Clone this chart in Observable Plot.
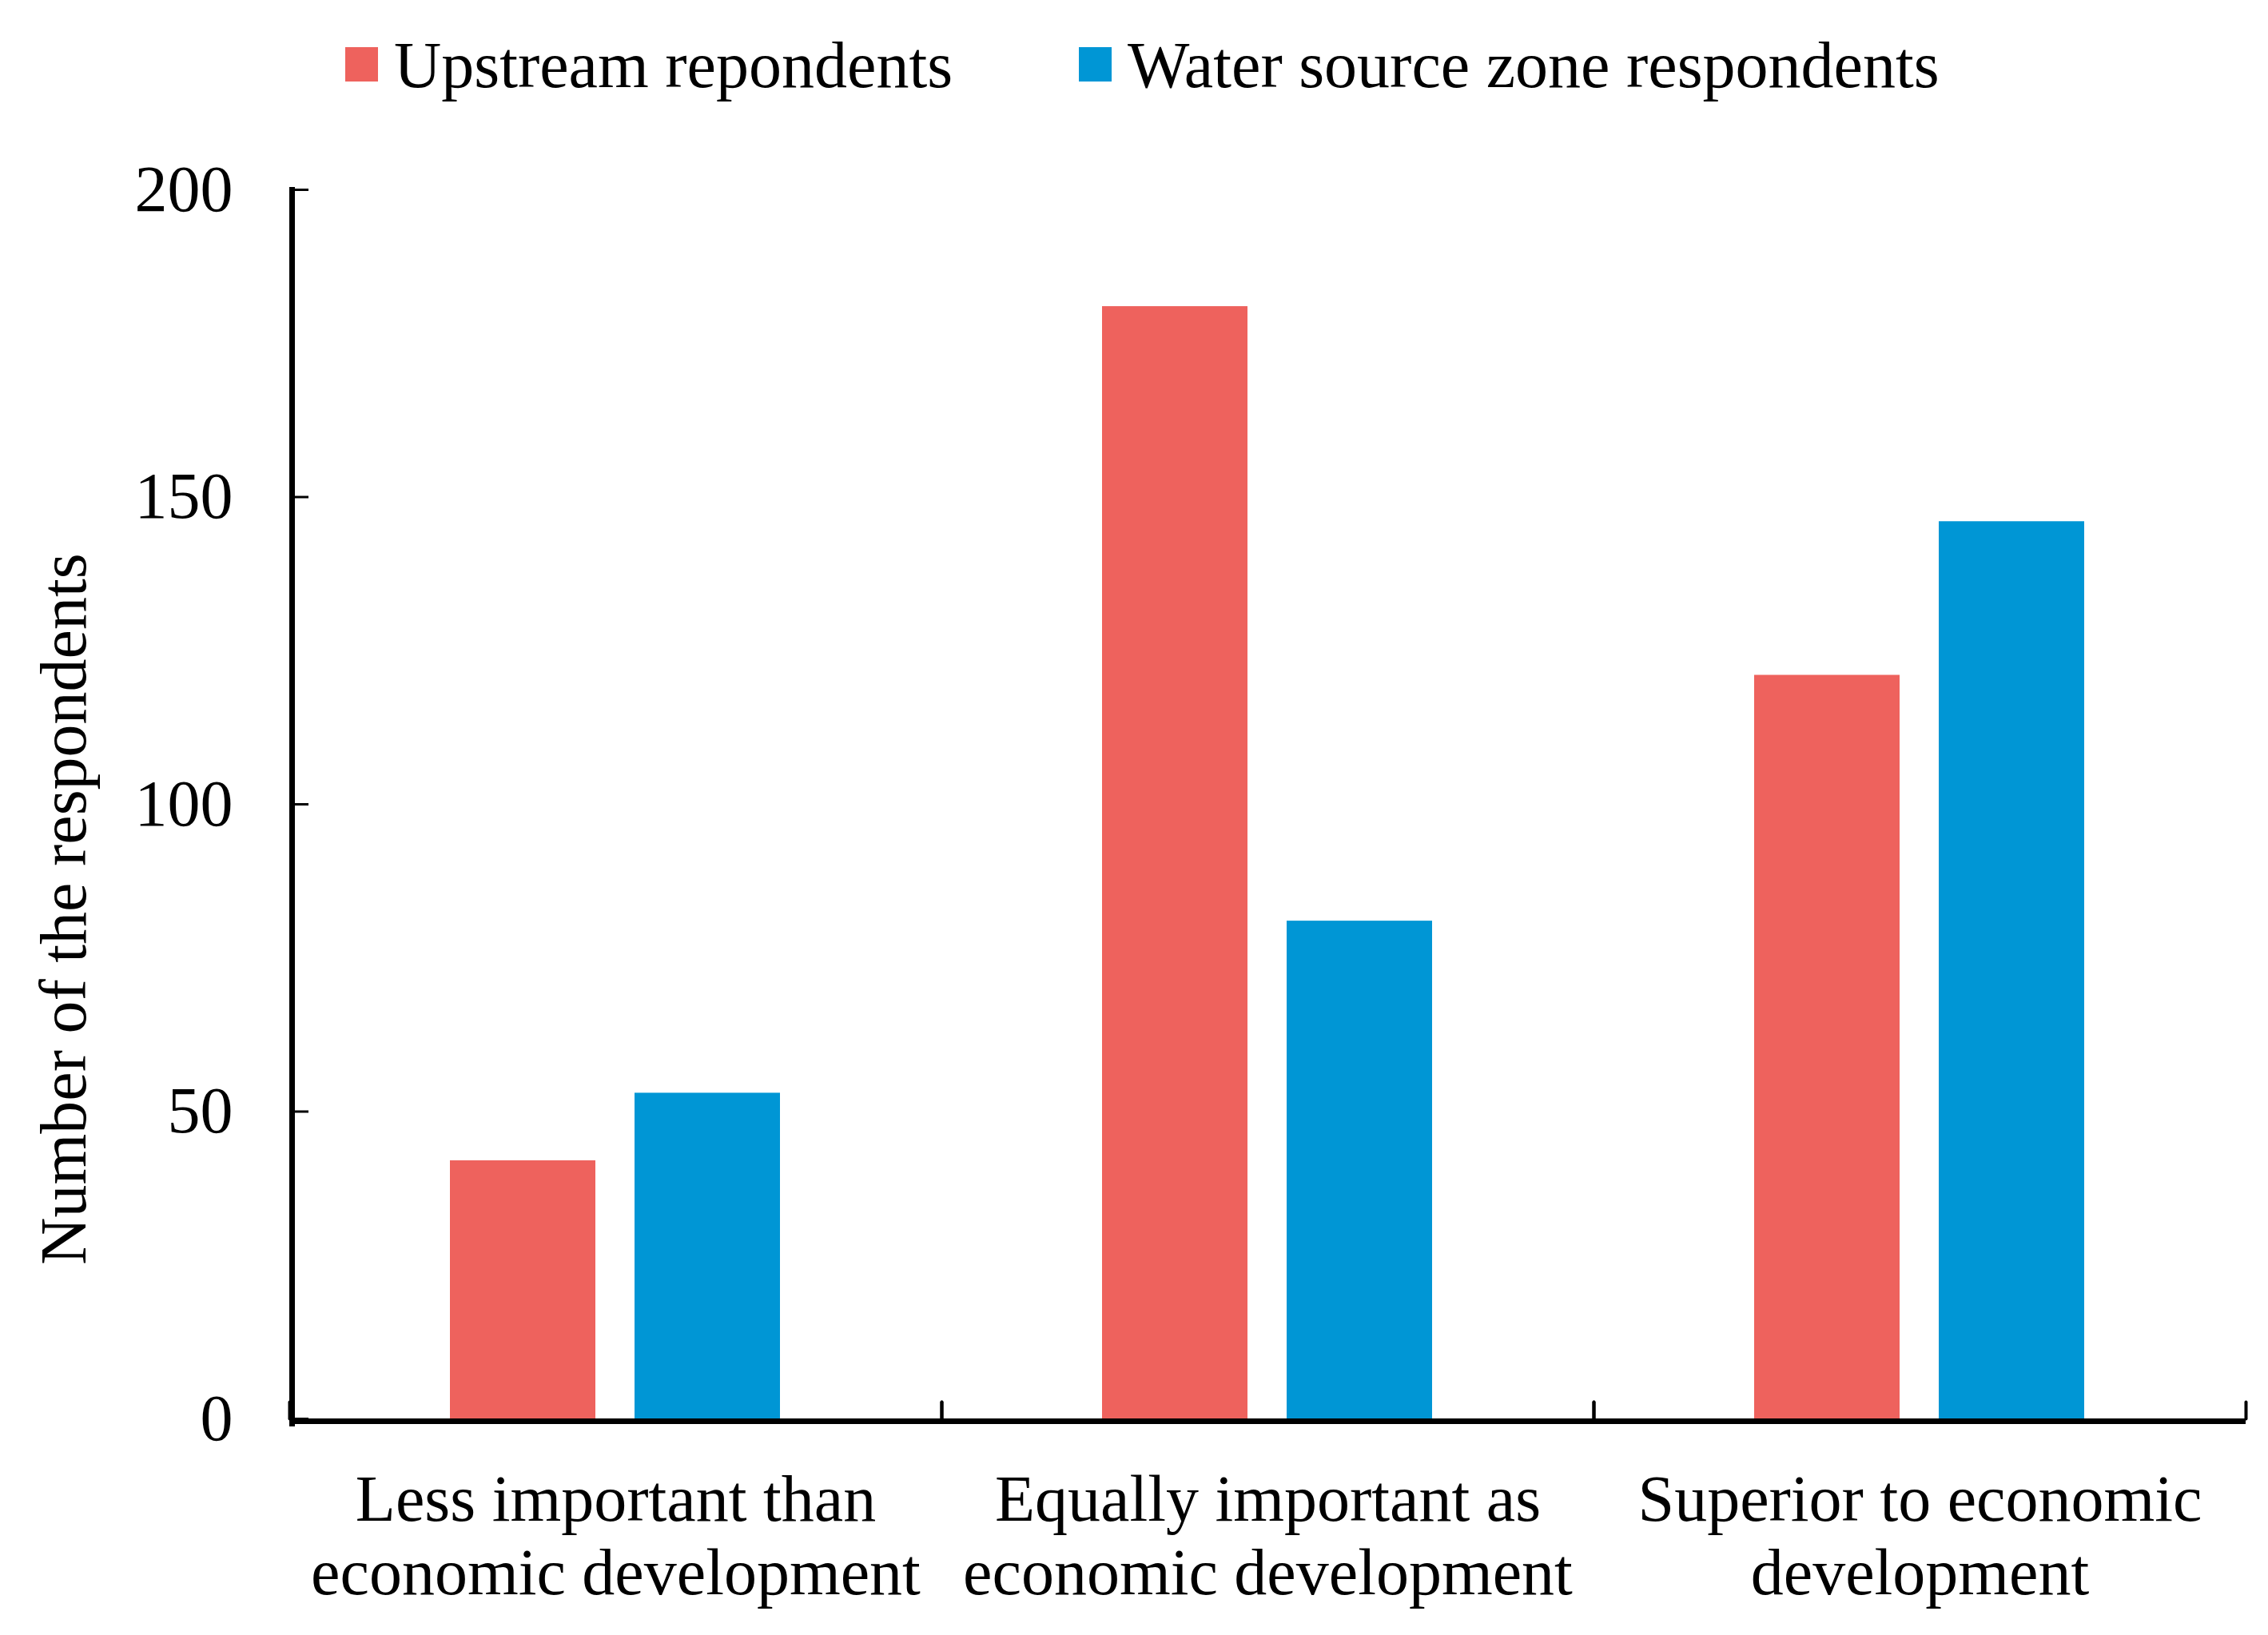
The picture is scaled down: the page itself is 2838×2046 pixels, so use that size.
<!DOCTYPE html>
<html>
<head>
<meta charset="utf-8">
<script src="https://cdn.jsdelivr.net/npm/d3@7"></script>
<script src="https://cdn.jsdelivr.net/npm/@observablehq/plot@0.6"></script>
<style>
  html, body { margin: 0; padding: 0; background: #fff; }
  #wrap { width: 2838px; height: 2046px; position: relative; overflow: hidden; font-family: "Liberation Serif", "Times New Roman", serif; }
  #legend { position: relative; width: 2838px; height: 150px; }
  .lg-sw { position: absolute; top: 59px; width: 41px; height: 43px; }
  .lg-tx { position: absolute; top: 32px; line-height: 100px; font-size: 82px; color: #000; white-space: nowrap; }
</style>
</head>
<body>
<div id="wrap">
  <div id="legend"></div>
  <div id="chart"></div>
</div>
<script>
const categories = [
  "Less important than economic development",
  "Equally important as economic development",
  "Superior to economic development"
];
const categoryTickLabels = [
  "Less important than\neconomic development",
  "Equally important as\neconomic development",
  "Superior to economic\ndevelopment"
];
const series = ["Upstream repondents", "Water source zone respondents"];
const seriesColors = ["#EE625D", "#0096D5"];
const upstreamValues = [42, 181, 121];
const waterSourceValues = [53, 81, 146];
const yTicks = [0, 50, 100, 150, 200];
const yLabel = "Number of the respondents";

const rows = [];
categories.forEach((c, i) => {
  rows.push({category: c, series: series[0], value: upstreamValues[i]});
  rows.push({category: c, series: series[1], value: waterSourceValues[i]});
});

// legend
const legend = document.getElementById("legend");
const legendLeft = [432, 1350];
series.forEach((s, i) => {
  const sw = document.createElement("div");
  sw.className = "lg-sw";
  sw.style.left = legendLeft[i] + "px";
  sw.style.background = seriesColors[i];
  const tx = document.createElement("div");
  tx.className = "lg-tx";
  tx.style.left = (legendLeft[i] + 61) + "px";
  tx.textContent = s;
  legend.appendChild(sw);
  legend.appendChild(tx);
});

const lineShape = {draw(context, l) { context.moveTo(0, 0); context.lineTo(0, -l); }};

const chart = Plot.plot({
  width: 2838,
  height: 1896,
  marginTop: 87,
  marginBottom: 271,
  marginLeft: 361,
  marginRight: 27,
  style: {fontFamily: "Liberation Serif, Times New Roman, serif", fontSize: "82px", background: "white", color: "black", overflow: "visible"},
  fx: {domain: categories, padding: 0, label: null, axis: null},
  x: {domain: series, paddingInner: 0.212, paddingOuter: 0.871, axis: null},
  y: {domain: [0, 200], axis: null},
  color: {domain: series, range: seriesColors},
  marks: [
    Plot.barY(rows, {fx: "category", x: "series", y: "value", fill: "series"}),
    Plot.ruleY([0], {stroke: "black", strokeWidth: 7, dy: 3, clip: false}),
    Plot.frame({anchor: "left", facet: "super", stroke: "black", strokeWidth: 7, insetLeft: 3, insetBottom: -6, clip: false}),
    Plot.vector(categories, {fx: d => d, frameAnchor: "bottom-left", length: 21, anchor: "start", shape: lineShape, stroke: "black", strokeWidth: 4}),
    Plot.vector(categories, {fx: d => d, frameAnchor: "bottom-right", length: 21, anchor: "start", shape: lineShape, stroke: "black", strokeWidth: 4}),
    Plot.axisY({ticks: yTicks, tickSize: -24, tickPadding: 95, strokeWidth: 3, label: null, fontSize: 82, tickFormat: d => String(d)}),
    Plot.axisFx({anchor: "bottom", tickSize: 0, tickPadding: 62, label: null, fontSize: 82, lineHeight: 1.12,
      tickFormat: d => categoryTickLabels[categories.indexOf(d)]}),
    Plot.text([yLabel], {facet: "super", frameAnchor: "left", textAnchor: "middle", rotate: -90, dx: -282, dy: 131, fontSize: 82, fill: "black"})
  ]
});
document.getElementById("chart").appendChild(chart);
</script>
</body>
</html>
